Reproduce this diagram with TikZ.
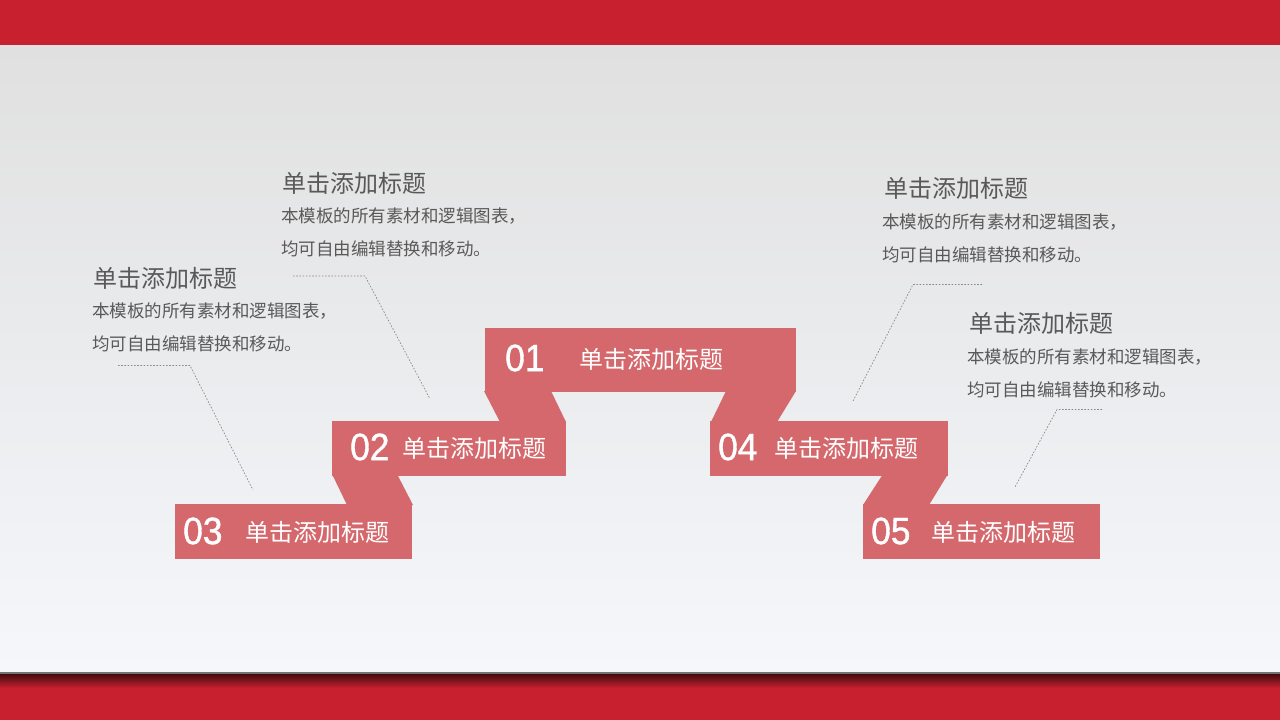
\documentclass[tikz,border=0pt]{standalone}
\usepackage{fontspec}
\newfontfamily\cjk{Noto Sans CJK SC}
\newfontfamily\numfont[FakeBold=1.0,FakeStretch=0.93]{Liberation Sans}
\definecolor{barred}{HTML}{C8202E}
\definecolor{shadowred}{HTML}{3A0A0E}
\definecolor{ribbon}{HTML}{D4686C}
\definecolor{bgtop}{HTML}{E0E0E0}
\definecolor{bgbot}{HTML}{F5F7FB}
\definecolor{txtgray}{HTML}{595959}
\definecolor{leader}{HTML}{8C8C82}
\tikzset{
  box/.style={fill=ribbon, draw=none, inner sep=0pt},
  fold/.style={fill=ribbon, draw=none},
  num/.style={anchor=west, inner sep=0pt, text=white, font=\numfont\fontsize{38}{38}\selectfont},
  lab/.style={anchor=west, inner sep=0pt, text=white, font=\cjk\fontsize{24}{24}\selectfont},
  ttl/.style={anchor=west, inner sep=0pt, text=txtgray, font=\cjk\fontsize{24}{24}\selectfont},
  body/.style={anchor=west, inner sep=0pt, text=txtgray, font=\cjk\fontsize{17.5}{17.5}\selectfont},
  leaderline/.style={draw=leader, line width=0.7pt, dash pattern=on 1.6pt off 1.6pt}
}
\begin{document}
\begin{tikzpicture}[x=1pt,y=-1pt]
\useasboundingbox (0,0) rectangle (1280,720);
% background
\shade[top color=bgtop, bottom color=bgbot] (0,45) rectangle (1280,673);
\fill[barred] (0,0) rectangle (1280,45);
\fill[barred] (0,673) rectangle (1280,720);
\shade[top color=shadowred, bottom color=barred] (0,673) rectangle (1280,688);
\fill[black!55] (0,671.5) rectangle (1280,673.5);

% folds
\fill[fold] (484,391) -- (551,391) -- (566,422) -- (500,422) -- cycle;
\fill[fold] (332,474) -- (397,474) -- (413,505) -- (347,505) -- cycle;
\fill[fold] (726,391) -- (796,391) -- (777,422) -- (711,422) -- cycle;
\fill[fold] (883,474) -- (948,474) -- (929,505) -- (863,505) -- cycle;

% boxes
\node[box, minimum width=311pt, minimum height=64pt] (b1) at (640,360) {};
\node[box, minimum width=234pt, minimum height=55pt] (b2) at (448.5,448) {};
\node[box, minimum width=237pt, minimum height=55pt] (b3) at (293.5,531) {};
\node[box, minimum width=238pt, minimum height=55pt] (b4) at (829,448) {};
\node[box, minimum width=237pt, minimum height=55pt] (b5) at (981.5,531) {};

% box texts
\node[num] (n1) at (505,358) {01};
\node[lab] (l1) at (579,359) {单击添加标题};
\node[num] (n2) at (350,447) {02};
\node[lab] (l2) at (402,448) {单击添加标题};
\node[num] (n3) at (183,531) {03};
\node[lab] (l3) at (245,532) {单击添加标题};
\node[num] (n4) at (718,447) {04};
\node[lab] (l4) at (774,448) {单击添加标题};
\node[num] (n5) at (871,531) {05};
\node[lab] (l5) at (931,532) {单击添加标题};

% description texts
\node[ttl] (ta) at (282,183) {单击添加标题};
\node[body] (pa1) at (281,216) {本模板的所有素材和逻辑图表，};
\node[body] (pa2) at (281,249) {均可自由编辑替换和移动。};

\node[ttl] (tb) at (93,278) {单击添加标题};
\node[body] (pb1) at (92,311) {本模板的所有素材和逻辑图表，};
\node[body] (pb2) at (92,344) {均可自由编辑替换和移动。};

\node[ttl] (tc) at (884,188) {单击添加标题};
\node[body] (pc1) at (882,222) {本模板的所有素材和逻辑图表，};
\node[body] (pc2) at (882,255) {均可自由编辑替换和移动。};

\node[ttl] (td) at (969,323) {单击添加标题};
\node[body] (pd1) at (967,357) {本模板的所有素材和逻辑图表，};
\node[body] (pd2) at (967,390) {均可自由编辑替换和移动。};

% leader lines
\coordinate (ca0) at (293,276);
\coordinate (ca1) at (365,276);
\coordinate (ca2) at (430,399);
\draw[leaderline] (ca0) -- (ca1) -- (ca2);

\coordinate (cb0) at (118,365.5);
\coordinate (cb1) at (190,365.5);
\coordinate (cb2) at (253,490);
\draw[leaderline] (cb0) -- (cb1) -- (cb2);

\coordinate (cc0) at (982,284.5);
\coordinate (cc1) at (913,284.5);
\coordinate (cc2) at (853,401);
\draw[leaderline] (cc0) -- (cc1) -- (cc2);

\coordinate (cd0) at (1102,409.5);
\coordinate (cd1) at (1057,409.5);
\coordinate (cd2) at (1015,487);
\draw[leaderline] (cd0) -- (cd1) -- (cd2);
\end{tikzpicture}
\end{document}
